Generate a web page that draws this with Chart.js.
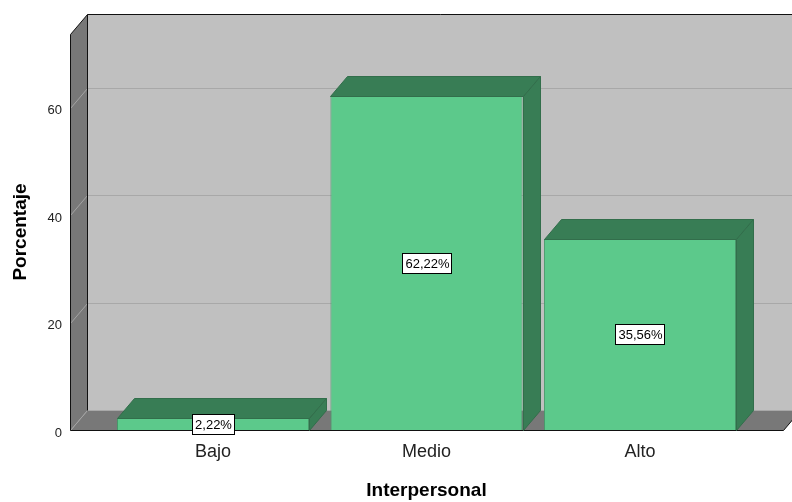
<!DOCTYPE html>
<html>
<head>
<meta charset="utf-8">
<style>
  html, body { margin: 0; padding: 0; background: #fff; }
  #wrap { width: 792px; height: 502px; }
</style>
<script src="https://cdn.jsdelivr.net/npm/chart.js@4/dist/chart.umd.min.js"></script>
</head>
<body>
<div id="wrap"><canvas id="chart" width="792" height="502"></canvas></div>
<script>
const categories = ["Bajo", "Medio", "Alto"];
const percentages = [2.22, 62.22, 35.56];
const yTicks = [0, 20, 40, 60];
const yMax = 73.7;
const xPad = 0.67; // empty space on each side of the outer bars, in category units

// how far the back of the box sits from the front plane
const DX = 17;
const DY = -20;

const FRONT_GREEN = "rgb(92,201,139)";
const DARK_GREEN = "rgb(56,125,85)";
const EDGE_GREEN = "rgb(50,110,75)";

function fmt(v) {
  return v.toFixed(2).replace(".", ",") + "%";
}

// gray walls, floor and gridlines of the 3d box
const boxPlugin = {
  id: "box",
  beforeDatasetsDraw(chart) {
    const { ctx, chartArea: a, scales: { y } } = chart;
    const L = Math.round(a.left) + 0.5, R = Math.round(a.right) + 0.5;
    const T = Math.round(a.top) + 0.5, B = Math.round(a.bottom) + 0.5;
    ctx.save();
    ctx.lineWidth = 1;

    // back wall
    ctx.fillStyle = "#c0c0c0";
    ctx.fillRect(L + DX, T + DY, R - L, B - T);

    // left wall
    ctx.fillStyle = "#787878";
    ctx.beginPath();
    ctx.moveTo(L, T);
    ctx.lineTo(L + DX, T + DY);
    ctx.lineTo(L + DX, B + DY);
    ctx.lineTo(L, B);
    ctx.closePath();
    ctx.fill();

    // floor
    ctx.beginPath();
    ctx.moveTo(L, B);
    ctx.lineTo(L + DX, B + DY);
    ctx.lineTo(R + DX, B + DY);
    ctx.lineTo(R, B);
    ctx.closePath();
    ctx.fill();

    // gridlines: flat on the back wall, slanted on the left wall
    yTicks.forEach((v) => {
      const py = Math.round(y.getPixelForValue(v)) + 0.5;
      ctx.strokeStyle = "#a8a8a8";
      ctx.beginPath();
      ctx.moveTo(L + DX, py + DY);
      ctx.lineTo(R + DX, py + DY);
      ctx.stroke();
      ctx.strokeStyle = "#a4a4a4";
      ctx.beginPath();
      ctx.moveTo(L, py);
      ctx.lineTo(L + DX, py + DY);
      ctx.stroke();
    });

    // dark outline
    ctx.strokeStyle = "#111";
    ctx.beginPath();
    ctx.moveTo(L, B);
    ctx.lineTo(L, T);
    ctx.lineTo(L + DX, T + DY);
    ctx.lineTo(R + DX + 40, T + DY);
    ctx.moveTo(L + DX, T + DY);
    ctx.lineTo(L + DX, B + DY);
    ctx.moveTo(L, B);
    ctx.lineTo(R, B);
    ctx.lineTo(R + DX, B + DY);
    ctx.stroke();
    ctx.restore();
  },
  afterDatasetsDraw(chart) {
    const { ctx } = chart;
    const meta = chart.getDatasetMeta(0);
    ctx.save();
    ctx.lineWidth = 1;
    meta.data.forEach((bar, i) => {
      const { x, y, base, width } = bar.getProps(["x", "y", "base", "width"], true);
      const l = Math.round(x - width / 2) + 0.5;
      const r = Math.round(x + width / 2) + 0.5;
      const t = Math.round(y) + 0.5;
      const b = Math.round(base) + 0.5;
      ctx.fillStyle = DARK_GREEN;
      ctx.strokeStyle = EDGE_GREEN;
      // top face
      ctx.beginPath();
      ctx.moveTo(l, t);
      ctx.lineTo(l + DX, t + DY);
      ctx.lineTo(r + DX, t + DY);
      ctx.lineTo(r, t);
      ctx.closePath();
      ctx.fill();
      ctx.stroke();
      // right face
      ctx.beginPath();
      ctx.moveTo(r, t);
      ctx.lineTo(r + DX, t + DY);
      ctx.lineTo(r + DX, b + DY);
      ctx.lineTo(r, b);
      ctx.closePath();
      ctx.fill();
      ctx.stroke();

      // value label in a white box
      const text = fmt(percentages[i]);
      ctx.font = "13px 'Liberation Sans', Arial, sans-serif";
      const w = Math.round(ctx.measureText(text).width) + 5;
      const h = 20;
      const cx = Math.round(x);
      const cy = Math.round((y + base) / 2);
      const bx = cx - Math.round(w / 2) + 0.5;
      const by = cy - h / 2 + 0.5;
      ctx.fillStyle = "#fff";
      ctx.fillRect(bx, by, w, h);
      ctx.strokeStyle = "#000";
      ctx.strokeRect(bx, by, w, h);
      ctx.fillStyle = "#000";
      ctx.textAlign = "center";
      ctx.textBaseline = "middle";
      ctx.fillText(text, cx + 0.5, cy + 1);
    });
    ctx.restore();
  },
};

Chart.defaults.font.family = "'Liberation Sans', Arial, sans-serif";
Chart.defaults.color = "#222";

new Chart(document.getElementById("chart"), {
  type: "bar",
  data: {
    datasets: [{
      data: percentages.map((v, i) => ({ x: i, y: v })),
      backgroundColor: FRONT_GREEN,
      borderColor: "rgb(70,150,105)",
      borderWidth: 1,
      categoryPercentage: 1,
      barPercentage: 0.9,
    }],
  },
  options: {
    responsive: false,
    animation: false,
    layout: { padding: { top: 34, right: 9, left: 0, bottom: 0 } },
    plugins: { legend: { display: false }, tooltip: { enabled: false } },
    scales: {
      x: {
        type: "linear",
        offset: false,
        min: -xPad,
        max: categories.length - 1 + xPad,
        grid: { display: false, drawTicks: false },
        border: { display: false },
        afterBuildTicks: (s) => { s.ticks = categories.map((_, i) => ({ value: i })); },
        afterFit: (s) => { s.height = 72; },
        ticks: {
          autoSkip: false,
          maxRotation: 0,
          padding: 11,
          font: { size: 18 },
          color: "#222",
          callback: (v) => categories[v],
        },
        title: {
          display: true,
          text: "Interpersonal",
          font: { size: 19, weight: "bold" },
          color: "#000",
          padding: { top: 0, bottom: 0 },
        },
      },
      y: {
        min: 0,
        max: yMax,
        grid: { display: false, drawTicks: false },
        border: { display: false },
        afterBuildTicks: (s) => { s.ticks = yTicks.map((v) => ({ value: v })); },
        afterFit: (s) => { s.width = 70; },
        ticks: { padding: 8, labelOffset: 3, font: { size: 13 }, color: "#222" },
        title: {
          display: true,
          text: "Porcentaje",
          font: { size: 19, weight: "bold" },
          color: "#000",
          padding: { top: 9, bottom: 0 },
        },
      },
    },
  },
  plugins: [boxPlugin],
});
</script>
</body>
</html>
